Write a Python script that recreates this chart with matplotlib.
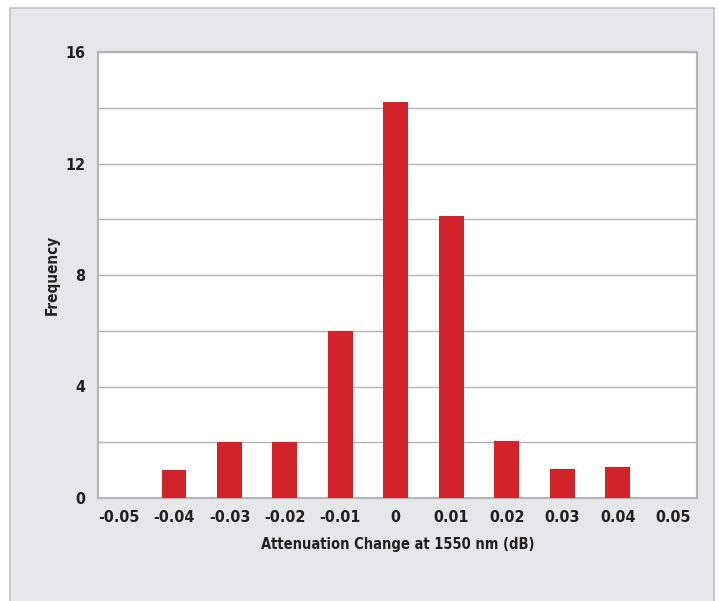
import matplotlib
matplotlib.use("Agg")
import matplotlib.pyplot as plt
from matplotlib.patches import Rectangle

categories = ["-0.05", "-0.04", "-0.03", "-0.02", "-0.01", "0", "0.01", "0.02", "0.03", "0.04", "0.05"]
frequency = [0, 1, 2, 2, 6, 14.2, 10.1, 2.05, 1.05, 1.1, 0]
y_ticks = [0, 4, 8, 12, 16]

plt.rcParams['font.family'] = ['DejaVu Sans']
plt.rcParams['font.stretch'] = 'condensed'

W, H = 719, 601
fig = plt.figure(figsize=(W / 100, H / 100), dpi=100)
fig.patch.set_facecolor("white")
fig.add_artist(Rectangle((10 / W, -0.01), 704 / W, (H - 8) / H + 0.01,
                         transform=fig.transFigure, facecolor="#e6e7e8",
                         edgecolor="#c4c4c4", linewidth=1.2, zorder=-5))

ax = fig.add_axes([98 / W, 103 / H, 599 / W, 446 / H])
ax.set_zorder(2)
ax.set_facecolor("white")
x = list(range(len(categories)))
ax.bar(x, frequency, width=0.45, color="#d2232a", zorder=3)
ax.set_xlim(-0.37, 10.43)
ax.set_ylim(0, 16)
ax.set_yticks(y_ticks)
ax.set_yticks(range(2, 16, 4), minor=True)
ax.grid(axis="y", which="both", color="#b4b4b4", linewidth=1.0, zorder=1)
ax.set_axisbelow(True)
ax.set_xticks(x)
ax.set_xticklabels(categories)
ax.tick_params(axis="both", which="both", length=0)
ax.tick_params(axis="x", pad=9, labelsize=11.5)
ax.tick_params(axis="y", pad=9, labelsize=11.5)
for lab in ax.get_xticklabels() + ax.get_yticklabels():
    lab.set_fontweight("bold")
    lab.set_color("#231f20")
    lab.set_fontstretch("condensed")
for s in ax.spines.values():
    s.set_color("#b4b4b4")
    s.set_linewidth(1.5)
ax.set_xlabel("Attenuation Change at 1550 nm (dB)", fontsize=10.5, fontweight="bold",
              fontstretch="condensed", color="#231f20", labelpad=8)
ax.set_ylabel("Frequency", fontsize=11, fontweight="bold", fontstretch="condensed",
              color="#231f20", labelpad=4)

fig.savefig("out.png", dpi=100)
